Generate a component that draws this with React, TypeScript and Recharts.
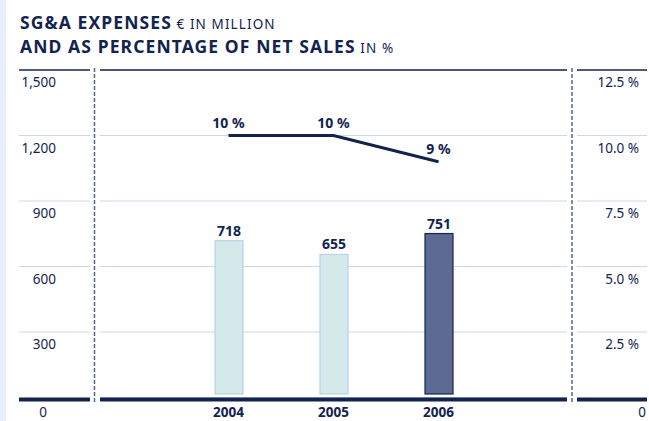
import React from 'react';
import { ComposedChart, Bar, Line, XAxis, YAxis, CartesianGrid, ReferenceLine, LabelList } from 'recharts';

// ---- data ----
const years = ['2004', '2005', '2006'];
const sgaExpenses = [718, 655, 751];
const sgaPercentOfSales = [10.0, 10.0, 9.0];
const leftTicks = [0, 300, 600, 900, 1200, 1500];
const rightTicks = [0, 2.5, 5, 7.5, 10, 12.5];
const highlightYear = '2006';

const data = years.map((y, i) => ({ year: y, expenses: sgaExpenses[i], pct: sgaPercentOfSales[i] }));

// ---- layout / style ----
const W = 649;
const H = 421;
const TOP = 70;
const XAXIS_H = 23.5;
const LEFT_W = 100;
const RIGHT_W = 82;
const NAVY = '#12234f';
const GRID = '#c9d9ea';
const DASH = '#56658a';
const FONT = '"Noto Sans", "Open Sans", sans-serif';
const PLOT_BOTTOM = H - XAXIS_H;

const fmtLeft = (v: number) => v.toLocaleString('en-US');
const fmtRight = (v: number) => (v === 0 ? '0' : `${v.toFixed(1)} %`);

const LeftTick = (props: any) => {
  const { y, payload } = props;
  const v = payload.value as number;
  const isTop = v === leftTicks[leftTicks.length - 1];
  const isZero = v === 0;
  return (
    <g>
      <line
        x1={19}
        x2={90}
        y1={isZero ? y + 2 : y}
        y2={isZero ? y + 2 : y}
        stroke={isTop || isZero ? NAVY : GRID}
        strokeWidth={isZero ? 4 : isTop ? 1.6 : 1}
      />
      {isZero && (
        <line x1={94.5} x2={94.5} y1={TOP - 2} y2={PLOT_BOTTOM + 6} stroke={DASH} strokeWidth={1.5} strokeDasharray="4 2" />
      )}
      <text
        x={isZero ? 43 : 56}
        y={isZero ? 417 : y + 17}
        textAnchor={isZero ? 'middle' : 'end'}
        fontFamily={FONT}
        fontSize={13.5}
        fill={NAVY}
      >
        {fmtLeft(v)}
      </text>
    </g>
  );
};

const RightTick = (props: any) => {
  const { y, payload } = props;
  const v = payload.value as number;
  const isTop = v === rightTicks[rightTicks.length - 1];
  const isZero = v === 0;
  return (
    <g>
      <line
        x1={577}
        x2={647}
        y1={isZero ? y + 2 : y}
        y2={isZero ? y + 2 : y}
        stroke={isTop || isZero ? NAVY : GRID}
        strokeWidth={isZero ? 4 : isTop ? 1.6 : 1}
      />
      {isZero && (
        <line x1={572} x2={572} y1={TOP - 2} y2={PLOT_BOTTOM + 6} stroke={DASH} strokeWidth={1.5} strokeDasharray="4 2" />
      )}
      <text
        x={isZero ? 646 : 639}
        y={isZero ? 417 : y + 17}
        textAnchor="end"
        fontFamily={FONT}
        fontSize={13.5}
        fill={NAVY}
      >
        {fmtRight(v)}
      </text>
    </g>
  );
};

const YearTick = (props: any) => {
  const { x, payload } = props;
  return (
    <text x={x} y={417} textAnchor="middle" fontFamily={FONT} fontSize={13.5} fontWeight={700} fill={NAVY}>
      {payload.value}
    </text>
  );
};

const BarShape = (props: any) => {
  const { x, y, width, height } = props;
  const yr = props.payload?.year ?? props.year;
  const hl = yr === highlightYear;
  const h = Math.max(0, height - 3.5);
  return (
    <rect
      x={x}
      y={y}
      width={width}
      height={h}
      fill={hl ? '#5d6a93' : '#d4e9ea'}
      stroke={hl ? '#142454' : '#b9d0e7'}
      strokeWidth={1.2}
    />
  );
};

const BaseLine = (props: any) => {
  const { x1, x2, y1 } = props;
  return <line x1={x1} x2={x2} y1={y1 + 2} y2={y1 + 2} stroke={NAVY} strokeWidth={4} />;
};

export default function App() {
  return (
    <div style={{ position: 'absolute', left: 0, top: 0, width: W, height: H, background: '#fff' }}>
      <svg width={W} height={H} style={{ position: 'absolute', left: 0, top: 0 }}>
        <rect x={0} y={0} width={6} height={H} fill="#e7eef7" />
        <text x={20} y={29} fontFamily={FONT} fill={NAVY}>
          <tspan fontSize={17.5} fontWeight={700} letterSpacing={1.1}>SG&amp;A EXPENSES</tspan>
          <tspan fontSize={13.5} letterSpacing={1.1}> € IN MILLION</tspan>
        </text>
        <text x={20} y={53} fontFamily={FONT} fill={NAVY}>
          <tspan fontSize={17.5} fontWeight={700} letterSpacing={1.1}>AND AS PERCENTAGE OF NET SALES</tspan>
          <tspan fontSize={13.5} letterSpacing={1.1}> IN %</tspan>
        </text>
      </svg>
      <div style={{ position: 'absolute', left: 0, top: 0 }}>
        <ComposedChart width={W} height={H} data={data} margin={{ top: TOP, right: 0, bottom: 0, left: 0 }}>
          <CartesianGrid yAxisId="left" vertical={false} stroke={GRID} strokeWidth={1} />
          <XAxis
            dataKey="year"
            height={XAXIS_H}
            axisLine={false}
            tickLine={false}
            padding={{ left: 76, right: 76 }}
            tick={<YearTick />}
          />
          <YAxis
            yAxisId="left"
            width={LEFT_W}
            domain={[0, 1500]}
            ticks={leftTicks}
            axisLine={false}
            tickLine={false}
            tick={<LeftTick />}
            interval={0}
          />
          <YAxis
            yAxisId="right"
            orientation="right"
            width={RIGHT_W}
            domain={[0, 12.5]}
            ticks={rightTicks}
            axisLine={false}
            tickLine={false}
            tick={<RightTick />}
            interval={0}
          />
          <ReferenceLine yAxisId="left" y={1500} stroke={NAVY} strokeWidth={1.6} />
          <Bar yAxisId="left" dataKey="expenses" barSize={28} shape={<BarShape />} isAnimationActive={false}>
            <LabelList
              dataKey="expenses"
              position="top"
              offset={5}
              style={{ fontFamily: FONT, fontSize: 14, fontWeight: 700, fill: NAVY }}
            />
          </Bar>
          <ReferenceLine yAxisId="left" y={0} shape={<BaseLine />} />
          <Line
            yAxisId="right"
            dataKey="pct"
            stroke={NAVY}
            strokeWidth={3}
            dot={false}
            activeDot={false}
            type="linear"
            isAnimationActive={false}
          >
            <LabelList
              dataKey="pct"
              position="top"
              offset={8}
              formatter={(v: any) => `${Math.round(Number(v))} %`}
              style={{ fontFamily: FONT, fontSize: 14, fontWeight: 700, fill: NAVY }}
            />
          </Line>
        </ComposedChart>
      </div>
    </div>
  );
}
